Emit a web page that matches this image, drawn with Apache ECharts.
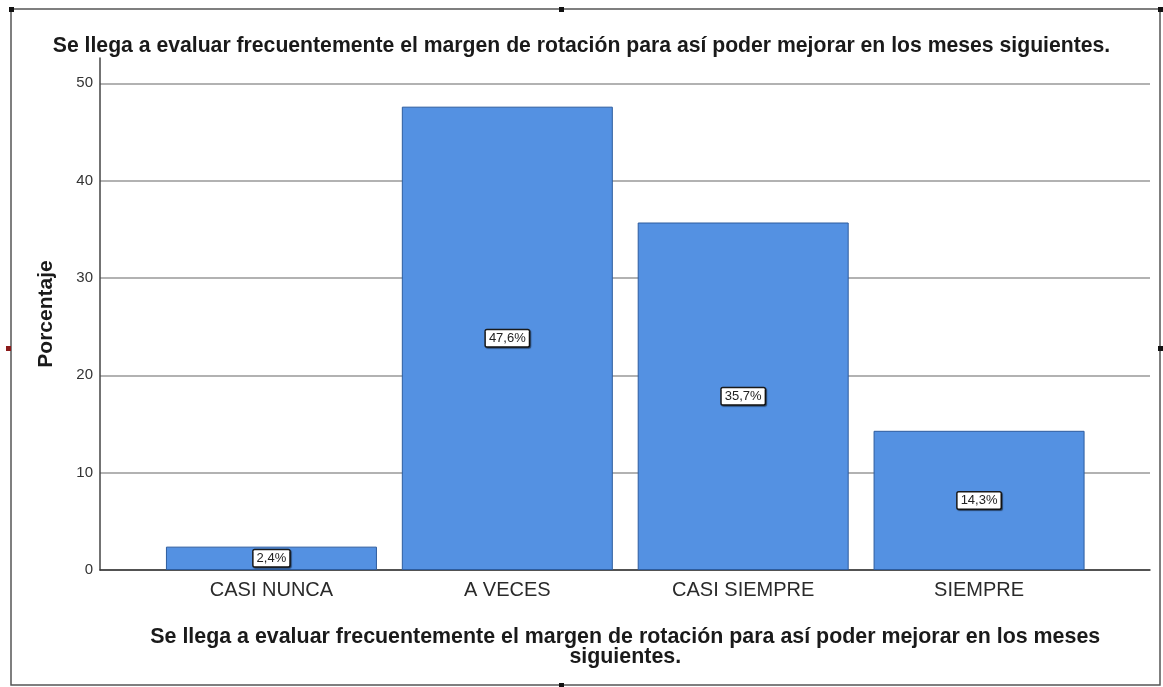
<!DOCTYPE html>
<html>
<head>
<meta charset="utf-8">
<title>Porcentaje</title>
<script src="https://cdn.jsdelivr.net/npm/echarts@6/dist/echarts.min.js"></script>
<style>
  html, body { margin: 0; padding: 0; background: #fff; }
  #chart { width: 1163px; height: 687px; }
</style>
</head>
<body>
<div id="chart"></div>
<script>
const titleText = 'Se llega a evaluar frecuentemente el margen de rotación para así poder mejorar en los meses siguientes.';
const axisNameText = 'Se llega a evaluar frecuentemente el margen de rotación para así poder mejorar en los meses\nsiguientes.';
const categories = ['CASI NUNCA', 'A VECES', 'CASI SIEMPRE', 'SIEMPRE'];
const percentValues = [2.4, 47.6, 35.7, 14.3];
const yTicks = [0, 10, 20, 30, 40, 50];

const fontName = 'Liberation Sans, Arial, sans-serif';
const yMax = 52.6;

function toLabel(v) {
  // SPSS style decimal comma
  return v.toFixed(1).replace('.', ',') + '%';
}

function handle(x, y, color) {
  return {
    type: 'rect',
    shape: { x: x - 2, y: y - 2, width: 5, height: 5 },
    style: { fill: color || '#111' },
    z: 10
  };
}

function buildOption() {
  return {
    backgroundColor: '#fff',
    animation: false,
    textStyle: { fontFamily: fontName },
    title: {
      text: titleText,
      left: 'center',
      top: 36,
      padding: 0,
      textStyle: { fontSize: 21.2, fontWeight: 'bold', color: '#1a1a1a', fontFamily: fontName }
    },
    grid: [
      { left: 100, right: 13, top: 58, bottom: 117 },
      { left: 153.5, right: 66, top: 58, bottom: 117 }
    ],
    xAxis: [
      {
        gridIndex: 0,
        type: 'value',
        min: 0,
        max: 1,
        axisLine: { show: true, lineStyle: { color: '#333', width: 1.5 } },
        axisTick: { show: false },
        axisLabel: { show: false },
        splitLine: { show: false }
      },
      {
        gridIndex: 1,
        type: 'category',
        data: categories,
        axisLine: { show: false },
        axisTick: { show: false },
        axisLabel: { fontSize: 20, color: '#2a2a2a', margin: 10, fontFamily: fontName },
        name: axisNameText,
        nameLocation: 'middle',
        nameGap: 57,
        nameTextStyle: { fontSize: 21.4, fontWeight: 'bold', color: '#1a1a1a', lineHeight: 20, fontFamily: fontName }
      }
    ],
    yAxis: [
      {
        gridIndex: 0,
        type: 'value',
        min: 0,
        max: yMax,
        interval: 10,
        axisLine: { show: true, lineStyle: { color: '#444', width: 1.5 } },
        axisTick: { show: false },
        axisLabel: {
          fontSize: 15,
          color: '#333',
          margin: 7,
          showMaxLabel: false,
          formatter: function (v) {
            return yTicks.indexOf(v) >= 0 ? String(v) : '';
          }
        },
        splitLine: { show: true, showMaxLine: false, lineStyle: { color: '#999', width: 1.5 } },
        name: 'Porcentaje',
        nameLocation: 'middle',
        nameGap: 43,
        nameTextStyle: { fontSize: 21, fontWeight: 'bold', color: '#1a1a1a', fontFamily: fontName }
      },
      {
        gridIndex: 1,
        type: 'value',
        min: 0,
        max: yMax,
        show: false,
        splitLine: { show: false }
      }
    ],
    series: [
      {
        type: 'bar',
        xAxisIndex: 1,
        yAxisIndex: 1,
        data: percentValues,
        barWidth: 211,
        itemStyle: { color: '#5491e2', borderColor: '#2d5c9e', borderWidth: 1 },
        label: {
          show: true,
          position: 'inside',
          formatter: function (p) { return toLabel(p.value); },
          fontSize: 13,
          color: '#222',
          backgroundColor: '#fff',
          borderColor: '#1a1a1a',
          borderWidth: 1.5,
          borderRadius: 1,
          padding: [2, 3, 1, 3],
          shadowColor: 'rgba(0,0,0,0.5)',
          shadowOffsetX: 1,
          shadowOffsetY: 1,
          shadowBlur: 1
        }
      }
    ],
    graphic: [
      {
        type: 'rect',
        shape: { x: 11, y: 9, width: 1149, height: 676 },
        style: { fill: 'none', stroke: '#555', lineWidth: 1.5 },
        silent: true
      },
      handle(11, 9),
      handle(561, 9),
      handle(1160, 9),
      handle(8, 348, '#8b1a1a'),
      handle(1160, 348),
      handle(561, 685)
    ]
  };
}

var myChart = echarts.init(document.querySelector('#chart'));
myChart.setOption(buildOption());
</script>
</body>
</html>
